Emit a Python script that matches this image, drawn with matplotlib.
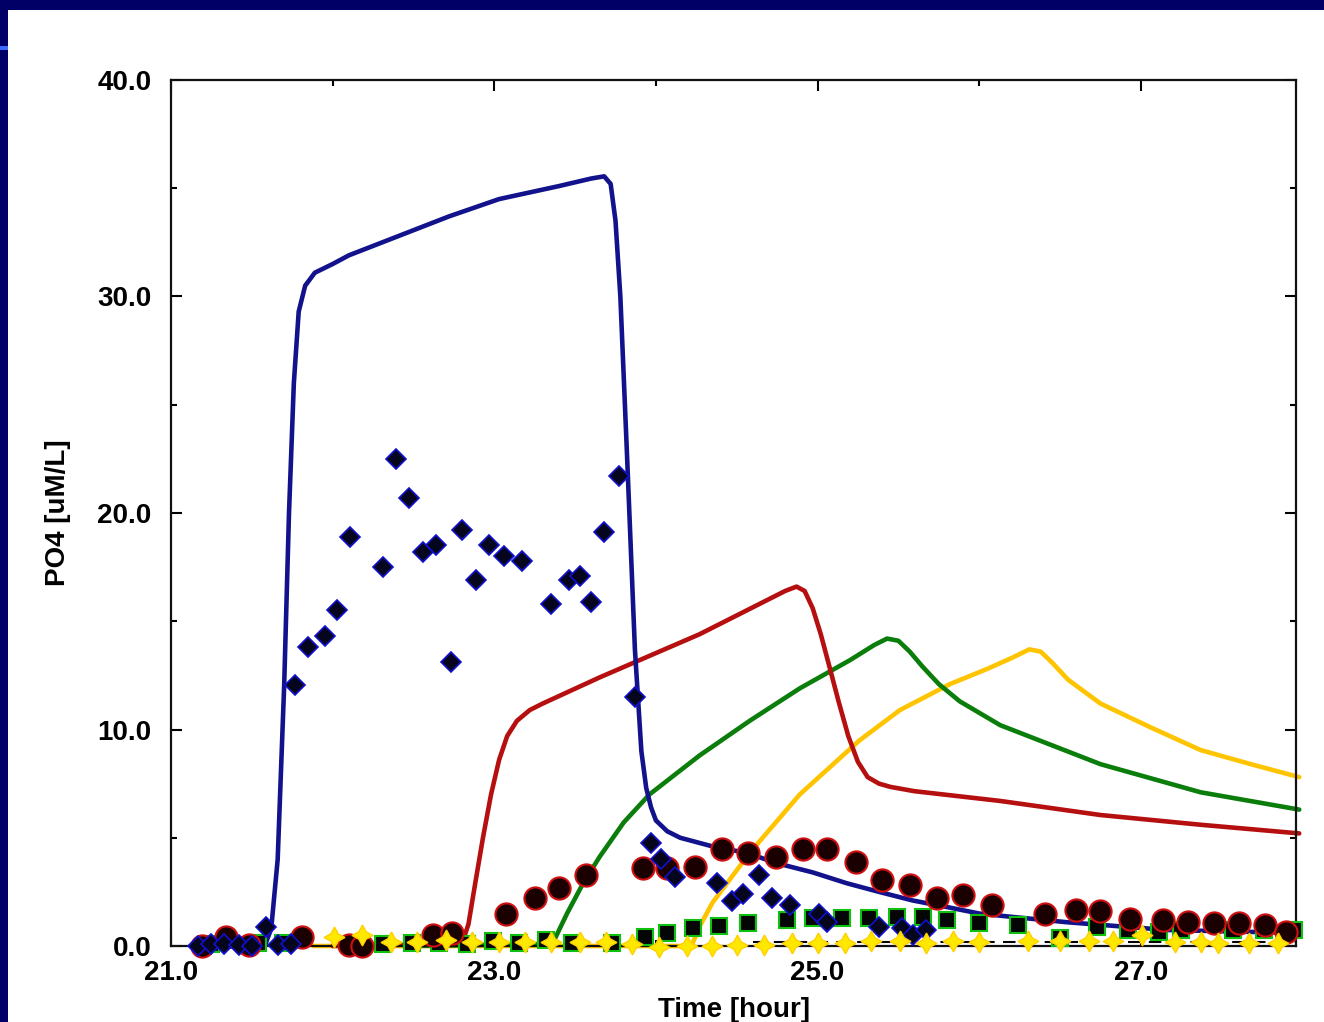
import matplotlib.pyplot as plt
from matplotlib.patches import Rectangle

# model curves (time in hours, PO4 in uM/L)
blue_t = [21.14, 21.58, 21.62, 21.66, 21.70, 21.73, 21.76, 21.79, 21.83, 21.89, 22.00, 22.10, 22.41,
          22.72, 23.03, 23.40, 23.60, 23.68, 23.72, 23.75, 23.78, 23.82, 23.87, 23.91, 23.94, 23.97,
          24.00, 24.07, 24.15, 24.35, 24.56, 24.76, 24.97, 25.18, 25.38, 25.59, 25.80, 26.00, 26.21,
          26.54, 27.16, 27.98]
blue_c = [0.0, 0.0, 0.8, 4.0, 12.0, 20.0, 26.0, 29.3, 30.5, 31.1, 31.5, 31.9, 32.8,
          33.7, 34.5, 35.1, 35.45, 35.55, 35.2, 33.5, 30.0, 22.9, 13.7, 9.0, 7.3, 6.4,
          5.8, 5.3, 5.0, 4.6, 4.3, 3.8, 3.4, 2.9, 2.5, 2.1, 1.8, 1.5, 1.34,
          1.1, 0.74, 0.6]

red_t = [22.00, 22.80, 22.84, 22.88, 22.93, 22.98, 23.03, 23.08, 23.14, 23.22, 23.30, 23.65, 24.27,
         24.80, 24.87, 24.92, 24.97, 25.02, 25.07, 25.13, 25.19, 25.25, 25.31, 25.38, 25.45, 25.60,
         26.13, 26.75, 27.37, 27.98]
red_c = [0.0, 0.1, 1.0, 2.8, 5.0, 7.0, 8.6, 9.7, 10.4, 10.9, 11.2, 12.4, 14.4,
         16.4, 16.6, 16.4, 15.6, 14.4, 13.0, 11.3, 9.7, 8.5, 7.8, 7.5, 7.35, 7.15,
         6.7, 6.05, 5.6, 5.2]

green_t = [22.50, 23.36, 23.45, 23.55, 23.65, 23.80, 23.96, 24.27, 24.58, 24.89, 25.20, 25.35, 25.43,
           25.50, 25.57, 25.65, 25.75, 25.88, 26.13, 26.75, 27.37, 27.98]
green_c = [0.0, 0.1, 1.5, 2.9, 4.1, 5.7, 7.0, 8.8, 10.4, 11.9, 13.2, 13.9, 14.2,
           14.1, 13.6, 12.9, 12.1, 11.3, 10.2, 8.4, 7.1, 6.3]

yellow_t = [21.88, 24.22, 24.27, 24.35, 24.58, 24.89, 25.26, 25.51, 25.82, 26.05, 26.20, 26.31, 26.38,
            26.45, 26.55, 26.75, 27.06, 27.37, 27.68, 27.98]
yellow_c = [0.0, 0.0, 0.9, 2.0, 4.3, 7.0, 9.5, 10.9, 12.1, 12.8, 13.3, 13.7, 13.6,
            13.1, 12.3, 11.2, 10.1, 9.05, 8.4, 7.8]

# measured points
dia_t = [21.17, 21.25, 21.33, 21.42, 21.50, 21.59, 21.66, 21.74,
         21.77, 21.85, 21.95, 22.03, 22.11, 22.31, 22.39, 22.47, 22.56, 22.64, 22.73, 22.80,
         22.89, 22.97, 23.06, 23.17, 23.35, 23.46, 23.53, 23.60, 23.68, 23.77, 23.87,
         23.97, 24.03, 24.12, 24.38, 24.47, 24.54, 24.64, 24.72, 24.83, 25.01, 25.06,
         25.38, 25.52, 25.59, 25.67]
dia_c = [0.0, 0.1, 0.1, 0.05, 0.0, 0.9, 0.05, 0.1,
         12.05, 13.8, 14.3, 15.5, 18.9, 17.5, 22.5, 20.7, 18.2, 18.5, 13.1, 19.2,
         16.9, 18.5, 18.0, 17.8, 15.8, 16.9, 17.1, 15.9, 19.1, 21.7, 11.5,
         4.75, 4.0, 3.2, 2.9, 2.1, 2.4, 3.3, 2.2, 1.9, 1.5, 1.1,
         0.9, 0.83, 0.5, 0.74]

circ_t = [21.19, 21.34, 21.48, 21.81, 22.10, 22.18, 22.62, 22.74,
          23.07, 23.25, 23.40, 23.57, 23.92, 24.07, 24.24, 24.41, 24.57, 24.74, 24.91, 25.06,
          25.24, 25.40, 25.57, 25.74, 25.90, 26.08, 26.41, 26.60, 26.75, 26.93, 27.14, 27.29,
          27.45, 27.61, 27.77, 27.90]
circ_c = [0.0, 0.42, 0.05, 0.42, 0.05, 0.0, 0.5, 0.6,
          1.5, 2.2, 2.7, 3.3, 3.6, 3.6, 3.65, 4.5, 4.3, 4.1, 4.5, 4.5,
          3.9, 3.05, 2.8, 2.2, 2.35, 1.9, 1.5, 1.65, 1.6, 1.25, 1.2, 1.1,
          1.05, 1.05, 0.97, 0.65]

sq_t = [21.25, 21.54, 21.69, 22.15, 22.31, 22.49, 22.66, 22.83, 22.99, 23.15, 23.32, 23.48,
        23.73, 23.93, 24.07, 24.23, 24.39, 24.57, 24.81, 24.97, 25.15, 25.32, 25.49, 25.65,
        25.80, 26.00, 26.24, 26.50, 26.73, 26.92, 27.11, 27.25, 27.57, 27.76, 27.95]
sq_c = [0.1, 0.15, 0.15, 0.1, 0.1, 0.15, 0.15, 0.1, 0.25, 0.15, 0.3, 0.15,
        0.15, 0.42, 0.6, 0.83, 0.92, 1.06, 1.2, 1.3, 1.3, 1.3, 1.35, 1.35,
        1.2, 1.05, 0.97, 0.37, 0.88, 0.74, 0.65, 0.74, 0.74, 0.74, 0.74]

star_t = [22.01, 22.18, 22.36, 22.52, 22.70, 22.86, 23.03, 23.19, 23.35, 23.53, 23.69, 23.85,
          24.02, 24.19, 24.35, 24.50, 24.67, 24.84, 25.00, 25.17, 25.33, 25.51, 25.67, 25.84,
          26.00, 26.30, 26.50, 26.68, 26.83, 27.01, 27.21, 27.37, 27.48, 27.67, 27.85]
star_c = [0.4, 0.5, 0.2, 0.2, 0.3, 0.2, 0.2, 0.2, 0.2, 0.2, 0.2, 0.1,
          -0.05, 0.0, 0.0, 0.05, 0.05, 0.15, 0.15, 0.15, 0.25, 0.25, 0.15, 0.25,
          0.2, 0.25, 0.25, 0.25, 0.25, 0.5, 0.2, 0.2, 0.15, 0.15, 0.15]

fig = plt.figure(figsize=(13.24, 10.22), dpi=100, facecolor="#000066")
fig.patches.append(Rectangle((8 / 1324, 0), 1, 1 - 10 / 1022, transform=fig.transFigure,
                             facecolor="white", edgecolor="none", zorder=-10))
fig.patches.append(Rectangle((0, 1 - 50 / 1022), 8 / 1324, 4 / 1022, transform=fig.transFigure,
                             facecolor="#3a6cff", edgecolor="none", zorder=-10))

ax = fig.add_axes([171 / 1324, 1 - 946 / 1022, (1296 - 171) / 1324, (946 - 80) / 1022])
ax.set_facecolor("white")

line_kw = dict(lw=3.3, zorder=2, clip_on=False, solid_joinstyle="round", solid_capstyle="round")
ax.plot(yellow_t, yellow_c, color="#ffc400", **line_kw)
ax.plot(green_t, green_c, color="#0a7d0a", **line_kw)
ax.plot(red_t, red_c, color="#b50f0f", **line_kw)
ax.plot(blue_t, blue_c, color="#12128c", **line_kw)
ax.plot([24.6, 27.98], [0.18, 0.18], color="k", lw=1.5, ls=(0, (6, 4)), zorder=2)

ax.plot(sq_t, sq_c, "s", ms=11, mfc="#050505", mec="#10c010", mew=1.5, zorder=3, clip_on=False)
ax.plot(circ_t, circ_c, "o", ms=16, mfc="#1a0000", mec="#d01010", mew=1.5, zorder=4, clip_on=False)
ax.plot(dia_t, dia_c, "D", ms=10, mfc="#05051e", mec="#1010d0", mew=1.2, zorder=5, clip_on=False)
ax.plot(star_t, star_c, marker=(4, 1, 0), ls="none", ms=15, mfc="#ffe800", mec="#ffd000",
        mew=1, zorder=6, clip_on=False)

ax.set_xlim(21.0, 27.96)
ax.set_ylim(0, 40)
ax.set_xticks([21, 23, 25, 27])
ax.set_xticks([22, 24, 26], minor=True)
ax.set_xticklabels(["21.0", "23.0", "25.0", "27.0"])
ax.set_yticks([0, 10, 20, 30, 40])
ax.set_yticks([5, 15, 25, 35], minor=True)
ax.set_yticklabels(["0.0", "10.0", "20.0", "30.0", "40.0"])

ax.tick_params(which="both", direction="in", top=True, right=True, width=1.5, color="k")
ax.tick_params(which="major", length=8)
ax.tick_params(which="minor", length=4)
ax.tick_params(axis="y", pad=14)
ax.tick_params(axis="x", pad=10)
for s in ax.spines.values():
    s.set_linewidth(1.6)
    s.set_color("#111111")

lab = dict(family="Liberation Sans", weight="bold", size=20)
for t in ax.get_xticklabels() + ax.get_yticklabels():
    t.set_fontfamily("Liberation Sans")
    t.set_fontweight("bold")
    t.set_fontsize(20)

ax.set_xlabel("Time [hour]", labelpad=8, **lab)
ax.set_ylabel("PO4 [uM/L]", labelpad=19, **lab)

fig.savefig("out.png", dpi=100, facecolor=fig.get_facecolor())
